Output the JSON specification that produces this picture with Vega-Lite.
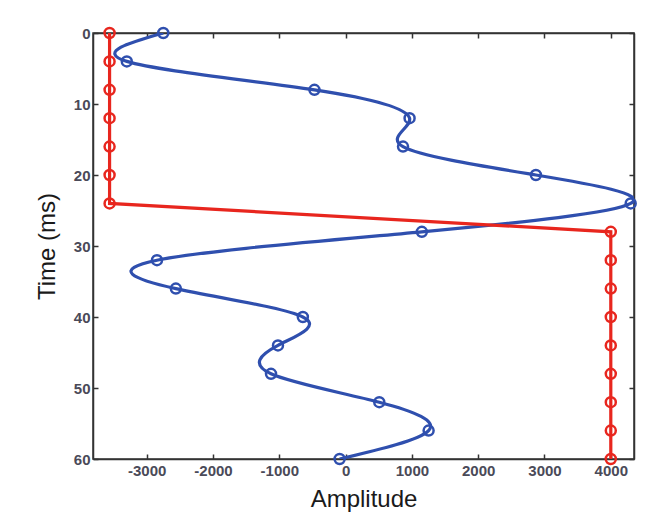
{
  "$schema": "https://vega.github.io/schema/vega-lite/v6.json",
  "autosize": "none",
  "width": 541,
  "height": 426,
  "padding": {"left": 93, "top": 33, "right": 20, "bottom": 58},
  "background": "white",
  "datasets": {
    "blue": [
      {"t": 0, "amp": -2750}, {"t": 4, "amp": -3300}, {"t": 8, "amp": -470},
      {"t": 12, "amp": 965}, {"t": 16, "amp": 866}, {"t": 20, "amp": 2870},
      {"t": 24, "amp": 4300}, {"t": 28, "amp": 1150}, {"t": 32, "amp": -2845},
      {"t": 36, "amp": -2560}, {"t": 40, "amp": -645}, {"t": 44, "amp": -1020},
      {"t": 48, "amp": -1125}, {"t": 52, "amp": 508}, {"t": 56, "amp": 1252},
      {"t": 60, "amp": -90}
    ],
    "red": [
      {"t": 0, "amp": -3560}, {"t": 4, "amp": -3560}, {"t": 8, "amp": -3560},
      {"t": 12, "amp": -3560}, {"t": 16, "amp": -3560}, {"t": 20, "amp": -3560},
      {"t": 24, "amp": -3560}, {"t": 28, "amp": 4000}, {"t": 32, "amp": 4000},
      {"t": 36, "amp": 4000}, {"t": 40, "amp": 4000}, {"t": 44, "amp": 4000},
      {"t": 48, "amp": 4000}, {"t": 52, "amp": 4000}, {"t": 56, "amp": 4000},
      {"t": 60, "amp": 4000}
    ]
  },
  "config": {
    "view": {"stroke": "#333", "strokeWidth": 1.5},
    "axis": {
      "grid": false,
      "domainColor": "#333",
      "domainWidth": 1.5,
      "tickColor": "#333",
      "tickWidth": 1.5,
      "tickSize": -5,
      "labelFont": "Liberation Sans",
      "labelFontWeight": "bold",
      "labelFontSize": 15,
      "labelColor": "#4a4a58",
      "titleFont": "Liberation Sans",
      "titleFontWeight": "normal",
      "titleFontSize": 24,
      "titleColor": "#1a1a1a"
    }
  },
  "resolve": {"axis": {"x": "independent", "y": "independent"}},
  "layer": [
    {
      "data": {"name": "blue"},
      "mark": {"type": "line", "interpolate": "natural", "color": "#2f4fae", "strokeWidth": 3.2, "clip": true},
      "encoding": {
        "x": {"field": "amp", "type": "quantitative",
              "scale": {"domain": [-3810, 4350], "nice": false, "zero": false},
              "axis": {"orient": "bottom", "title": "Amplitude", "values": [-3000, -2000, -1000, 0, 1000, 2000, 3000, 4000], "labelExpr": "'' + datum.value", "labelPadding": 9, "titlePadding": 9}},
        "y": {"field": "t", "type": "quantitative",
              "scale": {"domain": [0, 60], "reverse": true, "nice": false},
              "axis": {"orient": "left", "title": "Time (ms)", "values": [0, 10, 20, 30, 40, 50, 60], "labelExpr": "'' + datum.value", "labelPadding": 8, "titlePadding": 14}},
        "order": {"field": "t", "type": "quantitative"}
      }
    },
    {
      "data": {"name": "blue"},
      "mark": {"type": "point", "shape": "circle", "filled": false, "color": "#2f4fae", "strokeWidth": 2.5, "size": 100, "opacity": 1},
      "encoding": {
        "x": {"field": "amp", "type": "quantitative",
              "axis": {"orient": "top", "title": null, "labels": false, "values": [-3000, -2000, -1000, 0, 1000, 2000, 3000, 4000]}},
        "y": {"field": "t", "type": "quantitative",
              "axis": {"orient": "right", "title": null, "labels": false, "values": [0, 10, 20, 30, 40, 50, 60]}}
      }
    },
    {
      "data": {"name": "red"},
      "mark": {"type": "line", "color": "#e8261e", "strokeWidth": 3.2},
      "encoding": {
        "x": {"field": "amp", "type": "quantitative", "axis": null},
        "y": {"field": "t", "type": "quantitative", "axis": null},
        "order": {"field": "t", "type": "quantitative"}
      }
    },
    {
      "data": {"name": "red"},
      "mark": {"type": "point", "shape": "circle", "filled": false, "color": "#e8261e", "strokeWidth": 2.5, "size": 100, "opacity": 1},
      "encoding": {
        "x": {"field": "amp", "type": "quantitative", "axis": null},
        "y": {"field": "t", "type": "quantitative", "axis": null}
      }
    }
  ]
}
